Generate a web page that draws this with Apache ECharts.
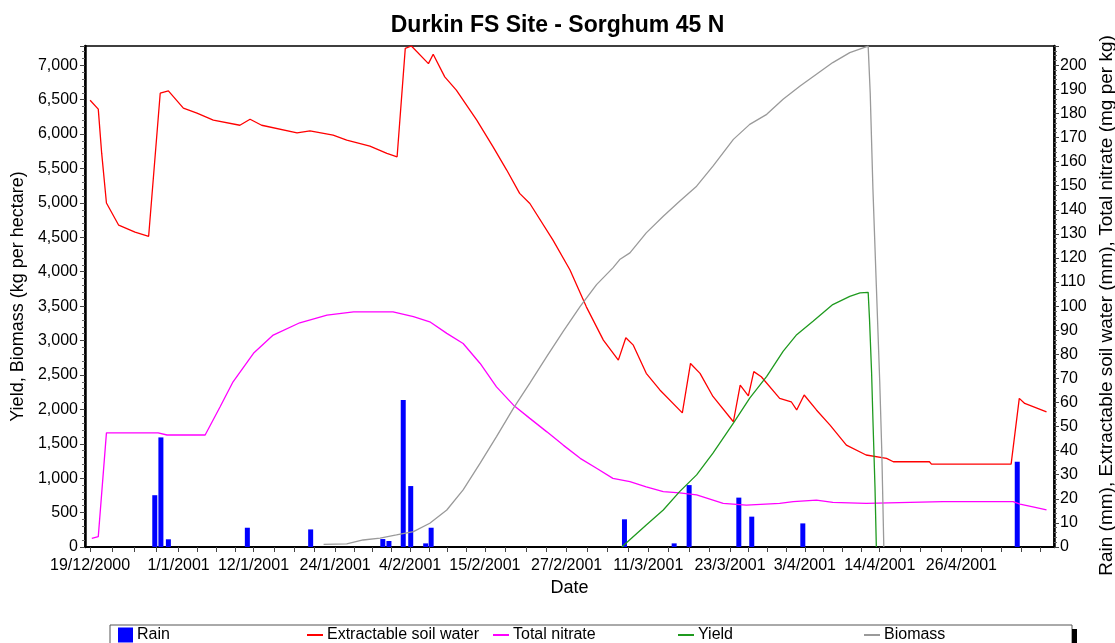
<!DOCTYPE html>
<html>
<head>
<meta charset="utf-8">
<script src="https://cdn.jsdelivr.net/npm/echarts/dist/echarts.min.js"></script>
<style>
  html, body { margin: 0; padding: 0; background: #fff; }
  #chart { width: 1115px; height: 643px; }
</style>
</head>
<body>
<div id="chart"></div>
<script>
// x values are days counted from 19/12/2000
const xTickLabels = ['19/12/2000', '1/1/2001', '12/1/2001', '24/1/2001', '4/2/2001', '15/2/2001',
  '27/2/2001', '11/3/2001', '23/3/2001', '3/4/2001', '14/4/2001', '26/4/2001'];

// Rain (mm)
const rainDays = [9.5, 10.4, 11.5, 23.1, 32.4, 43.0, 43.9, 46.0, 47.1, 49.3, 50.1, 78.5, 85.8, 88.0, 95.3, 97.2, 104.7, 136.2];
const rainMm = [21.5, 45.5, 3.2, 8.0, 7.3, 3.3, 2.5, 61, 25.3, 1.5, 8.0, 11.5, 1.5, 25.7, 20.5, 12.6, 9.8, 35.4];

// Extractable soil water (mm)
const soilWaterDays = [0, 1.2, 1.7, 2.4, 4.2, 6.6, 8.6, 10.3, 11.5, 13.7, 15.7, 18.1, 22.0, 23.5, 25.2, 30.4,
  32.3, 35.7, 37.7, 41.1, 43.6, 45.1, 46.3, 47.2, 49.7, 50.4, 52.1, 53.8, 56.8, 59.2, 61.2, 63.1, 64.6, 68.0,
  70.5, 72.9, 75.4, 77.6, 78.7, 79.8, 81.7, 83.7, 87.0, 88.2, 89.6, 91.5, 94.5, 95.5, 96.7, 97.5, 98.6, 101.3,
  103.0, 103.8, 104.9, 106.7, 108.7, 111.1, 114.0, 117.0, 118.0, 123.3, 123.6, 135.3, 136.5, 137.3, 140.5];
const soilWaterMm = [185.5, 181.8, 163.5, 142.8, 133.6, 130.7, 129, 188.4, 189.4, 182.2, 180.1, 177.2, 175.1, 177.6, 175.1, 171.9,
  172.8, 171, 168.9, 166.4, 163.4, 162, 207, 208, 200.7, 204.6, 195.2, 189.7, 177.2, 166.1, 156.5, 146.8, 142.6, 127.4,
  115, 99.7, 85.9, 77.6, 86.9, 83.8, 72.1, 65.2, 55.7, 76.2, 72.1, 62.5, 52, 67.2, 62.7, 72.8, 70.7, 61.7,
  60.3, 56.9, 63.1, 56.9, 50.6, 42.3, 38.2, 36.8, 35.4, 35.4, 34.4, 34.4, 61.7, 59.6, 56.1];

// Total nitrate (mg per kg)
const nitrateDays = [0.25, 1.2, 2.4, 10.0, 11.3, 16.9, 19.1, 21.0, 24.0, 26.9, 30.8, 34.8, 38.7, 44.5, 47.5, 49.9,
  52.4, 54.8, 57.3, 59.7, 62.2, 64.6, 67.1, 69.5, 72.0, 74.4, 76.8, 79.3, 81.7, 84.2, 86.6, 89.1, 93.0, 96.4,
  101.3, 103.3, 106.7, 109.1, 114.0, 125.3, 135.6, 136.6, 138.5, 140.5];
const nitrateVals = [3.6, 4.3, 47.4, 47.4, 46.5, 46.5, 58.2, 68.6, 80.4, 88, 93.1, 96.3, 97.6, 97.6, 95.6, 93.5,
  88.7, 84.5, 76.2, 66.5, 58.9, 53.4, 47.8, 42.3, 36.8, 32.7, 28.5, 27.1, 25, 23, 22.5, 21.6, 18.1, 17.4,
  18.1, 18.8, 19.5, 18.5, 18.1, 18.8, 18.8, 17.8, 16.7, 15.4];

// Yield (kg per hectare)
const yieldDays = [78.1, 81.7, 84.2, 86.6, 89.1, 91.5, 94.5, 96.9, 99.4, 101.8, 103.8, 106.2, 109.1, 111.6, 113.1,
  114.3, 114.5, 114.8, 115.0, 115.3, 115.5];
const yieldKg = [0, 320, 538, 805, 1048, 1363, 1800, 2164, 2478, 2842, 3085, 3279, 3522, 3643, 3692,
  3701, 3304, 2547, 1848, 878, 0];

// Biomass (kg per hectare)
const biomassDays = [34.3, 37.7, 40.1, 42.6, 45.0, 47.5, 49.9, 52.4, 54.8, 57.3, 59.7, 62.2, 64.6, 67.1, 69.5, 72.0,
  74.4, 76.8, 77.8, 79.3, 81.7, 84.2, 86.6, 89.1, 91.5, 94.5, 96.9, 99.4, 101.8, 104.3, 106.7, 109.1, 111.6, 114.3,
  114.6, 115.0, 115.5, 116.0, 116.3, 116.6];
const biomassKg = [39, 44, 102, 130, 175, 223, 345, 538, 830, 1218, 1605, 2018, 2382, 2770, 3133, 3497,
  3813, 4056, 4177, 4274, 4565, 4807, 5025, 5243, 5534, 5923, 6141, 6287, 6505, 6699, 6869, 7039, 7184, 7278,
  6600, 5200, 3800, 2400, 1400, 0];

const startMs = Date.UTC(2000, 11, 19);
function dayOf(label) {
  const p = label.split('/').map(Number);
  return (Date.UTC(p[2], p[1] - 1, p[0]) - startMs) / 86400000;
}
const tickDays = xTickLabels.map(dayOf);
const labelByDay = {};
tickDays.forEach((d, i) => { labelByDay[d] = xTickLabels[i]; });
// small ticks: each label gap split in four
const minorTickDays = [];
for (let i = 0; i < tickDays.length - 1; i++) {
  for (let k = 0; k < 4; k++) minorTickDays.push(tickDays[i] + (tickDays[i + 1] - tickDays[i]) * k / 4);
}
minorTickDays.push(tickDays[tickDays.length - 1]);
for (let k = 1; k <= 4; k++) minorTickDays.push(tickDays[tickDays.length - 1] + 128 / 11 * k / 4);

function pairs(xs, ys) { return xs.map((x, i) => [x, ys[i]]); }

const font = 'Liberation Sans, Arial, sans-serif';

var myChart = echarts.init(document.getElementById('chart'));

function legendItem(name, left, isBar) {
  return {
    data: [name],
    left: left,
    top: 627,
    padding: 0,
    icon: 'rect',
    itemWidth: isBar ? 15 : 16,
    itemHeight: isBar ? 15 : 2,
    selectedMode: false,
    textStyle: { fontFamily: font, fontSize: 16, color: '#000', padding: [0, 0, 0, -1] }
  };
}

var option = {
  animation: false,
  backgroundColor: '#fff',
  title: {
    text: 'Durkin FS Site - Sorghum 45 N',
    left: 'center',
    top: 9,
    textStyle: { fontFamily: font, fontSize: 23, fontWeight: 'bold', color: '#000' }
  },
  grid: {
    left: 85, right: 61, top: 46, bottom: 96,
    containLabel: false,
    outerBoundsMode: 'none',
    show: true, borderColor: '#000', borderWidth: 1.5, backgroundColor: '#fff'
  },
  legend: [
    legendItem('Rain', 118, true),
    legendItem('Extractable soil water', 307, false),
    legendItem('Total nitrate', 493, false),
    legendItem('Yield', 678, false),
    legendItem('Biomass', 864, false)
  ],
  graphic: [
    { type: 'rect', shape: { x: 110, y: 625, width: 962, height: 24 }, style: { fill: 'none', stroke: '#555', lineWidth: 1 }, z: -1 },
    { type: 'rect', shape: { x: 1072, y: 629, width: 5, height: 16 }, style: { fill: '#000' } }
  ],
  xAxis: {
    type: 'value',
    min: -0.75,
    max: 141.6,
    name: 'Date',
    nameLocation: 'middle',
    nameGap: 32,
    nameTextStyle: { fontFamily: font, fontSize: 18, color: '#000' },
    splitLine: { show: false },
    axisLine: { onZero: false, lineStyle: { color: '#000', width: 2 } },
    axisTick: { customValues: minorTickDays, length: 5, lineStyle: { color: '#444' } },
    axisLabel: {
      customValues: tickDays,
      formatter: v => labelByDay[v] || '',
      fontFamily: font, fontSize: 16, color: '#000', margin: 11
    }
  },
  yAxis: [
    {
      type: 'value',
      min: 0, max: 7280, interval: 500,
      name: 'Yield, Biomass (kg per hectare)',
      nameLocation: 'middle',
      nameGap: 56,
      nameRotate: 90,
      nameTextStyle: { fontFamily: font, fontSize: 18, color: '#000' },
      splitLine: { show: false },
      axisLine: { show: true, onZero: false, lineStyle: { color: '#000', width: 2.5 } },
      axisTick: { show: true, length: 5, lineStyle: { color: '#444' } },
      minorTick: { show: true, splitNumber: 5, length: 3, lineStyle: { color: '#666' } },
      axisLabel: {
        fontFamily: font, fontSize: 16, color: '#000', margin: 7,
        formatter: v => (v % 500 === 0 ? v.toLocaleString('en-US') : '')
      }
    },
    {
      type: 'value',
      position: 'right',
      min: 0, max: 208, interval: 10,
      name: 'Rain (mm), Extractable soil water (mm), Total nitrate (mg per kg)',
      nameLocation: 'middle',
      nameGap: 40,
      nameRotate: 90,
      nameTextStyle: { fontFamily: font, fontSize: 19, color: '#000', padding: [0, 18, 0, 0] },
      splitLine: { show: false },
      axisLine: { show: true, onZero: false, lineStyle: { color: '#000', width: 2.5 } },
      axisTick: { show: true, length: 5, lineStyle: { color: '#444' } },
      minorTick: { show: true, splitNumber: 5, length: 3, lineStyle: { color: '#666' } },
      axisLabel: {
        fontFamily: font, fontSize: 16, color: '#000', margin: 6,
        formatter: v => (v % 10 === 0 ? String(v) : '')
      }
    }
  ],
  series: [
    {
      name: 'Rain', type: 'bar', yAxisIndex: 1, barWidth: 5,
      itemStyle: { color: '#0000ff' },
      data: pairs(rainDays, rainMm)
    },
    {
      name: 'Extractable soil water', type: 'line', yAxisIndex: 1, symbol: 'none',
      lineStyle: { color: '#ff0000', width: 1.3 }, itemStyle: { color: '#ff0000' },
      data: pairs(soilWaterDays, soilWaterMm)
    },
    {
      name: 'Total nitrate', type: 'line', yAxisIndex: 1, symbol: 'none',
      lineStyle: { color: '#ff00ff', width: 1.3 }, itemStyle: { color: '#ff00ff' },
      data: pairs(nitrateDays, nitrateVals)
    },
    {
      name: 'Yield', type: 'line', yAxisIndex: 0, symbol: 'none',
      lineStyle: { color: '#1f9a1f', width: 1.3 }, itemStyle: { color: '#1f9a1f' },
      data: pairs(yieldDays, yieldKg)
    },
    {
      name: 'Biomass', type: 'line', yAxisIndex: 0, symbol: 'none',
      lineStyle: { color: '#9a9a9a', width: 1.3 }, itemStyle: { color: '#9a9a9a' },
      data: pairs(biomassDays, biomassKg)
    }
  ]
};

myChart.setOption(option);
</script>
</body>
</html>
